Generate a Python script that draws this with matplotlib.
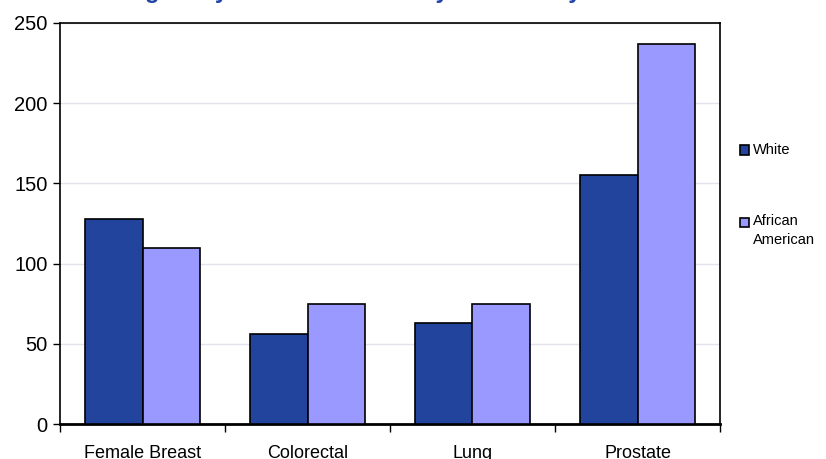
import numpy as np
import matplotlib.pyplot as plt
from matplotlib.patches import Rectangle

plt.rcParams['font.family'] = ['Liberation Sans', 'DejaVu Sans']

# Data
sites = ["Female Breast", "Colorectal", "Lung", "Prostate"]
white = [128, 56, 63, 155]
african_american = [110, 75, 75, 237]
series_names = ["White", "African\nAmerican"]
series_colors = ["#22449c", "#9999ff"]
yticks = [0, 50, 100, 150, 200, 250]

fig = plt.figure(figsize=(8.26, 4.59), dpi=100)
ax = fig.add_axes([60/826, 1 - 424/459, 660/826, 401/459])

x = np.arange(len(sites))
w = 0.35
ax.bar(x - w/2, white, w, color=series_colors[0], edgecolor='black', linewidth=1.2, zorder=3)
ax.bar(x + w/2, african_american, w, color=series_colors[1], edgecolor='black', linewidth=1.2, zorder=3)

ax.set_xlim(-0.5, len(sites) - 0.5)
ax.set_ylim(0, 250)
ax.set_yticks(yticks)
ax.yaxis.grid(True, color='#e2e2ee', linewidth=1, zorder=0)
ax.set_axisbelow(True)

# category ticks sit between the groups, labels in the middle
ax.set_xticks(np.arange(len(sites) + 1) - 0.5)
ax.set_xticklabels([])
ax.set_xticks(x, minor=True)
ax.set_xticklabels(sites, minor=True)
ax.tick_params(axis='x', which='minor', length=0, pad=15, labelsize=13)
ax.tick_params(axis='x', which='major', length=6, width=1, direction='out')
ax.tick_params(axis='y', length=5, width=1, direction='out', labelsize=14.5, pad=4)

for s in ax.spines.values():
    s.set_linewidth(1.2)
ax.spines['bottom'].set_linewidth(2)

# title runs off the top of the figure as in the reference
fig.text(0.45, 1 + 2/459, "Malignancy Incidence Rates by Site and by Race",
         ha='center', va='baseline', fontsize=17, fontweight='bold', color='#2244aa')

# legend
leg_y = [150, 214]
for name, col, yy in zip(series_names, series_colors, leg_y):
    sq_y = yy if '\n' not in name else yy + 9
    fig.patches.append(Rectangle((740/826, 1 - (sq_y + 4.5)/459), 9/826, 9/459,
                                 transform=fig.transFigure, facecolor=col,
                                 edgecolor='black', linewidth=1.2))
    fig.text(753/826, 1 - yy/459, name, ha='left', va='top' if '\n' in name else 'center',
             fontsize=10.5, linespacing=1.45)

fig.savefig("out.png", dpi=100)
